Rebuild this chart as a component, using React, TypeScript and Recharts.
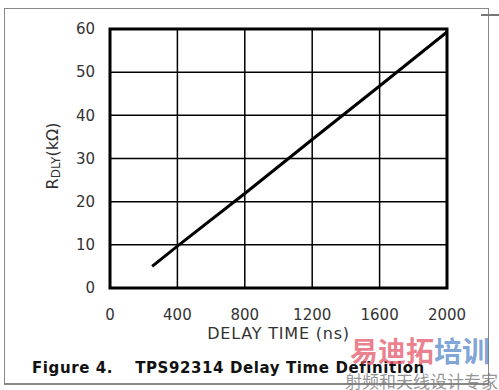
import React from 'react';
import { LineChart, Line, XAxis, YAxis, CartesianGrid, ReferenceArea, Label } from 'recharts';

const delayNs = [250, 400, 800, 1200, 1600, 2000];
const rdlyKohm = [5, 9.7, 21.9, 34.4, 46.8, 59.3];
const xTicks = [0, 400, 800, 1200, 1600, 2000];
const yTicks = [0, 10, 20, 30, 40, 50, 60];

const data = delayNs.map((d, i) => ({ delay: d, rdly: rdlyKohm[i] }));

const font = '"DejaVu Sans", "Liberation Sans", Arial, sans-serif';

const YAxisTitle = () => (
  <text transform="translate(58,156) rotate(-90)" textAnchor="middle" fontSize={16} fill="#333" fontFamily={font}>
    R<tspan fontSize={12} dy={2}>DLY</tspan><tspan dy={-2}>(kΩ)</tspan>
  </text>
);

const App: React.FC = () => {
  return (
    <div style={{ position: 'absolute', left: 0, top: 0, width: 499, height: 390, background: '#fff', fontFamily: font, overflow: 'hidden' }}>
      {/* page frame */}
      <div style={{ position: 'absolute', left: 4, top: 8, width: 485, height: 377, border: '1px solid #888', borderBottomWidth: 2, boxSizing: 'border-box' }} />
      <div style={{ position: 'absolute', left: 481, top: 14, width: 18, height: 2, background: '#777' }} />

      <div style={{ position: 'absolute', left: 0, top: 0 }}>
        <LineChart width={499} height={390} data={data} margin={{ top: 29, right: 52, bottom: 72, left: 60 }}>
          <CartesianGrid stroke="#000" strokeWidth={1.5} />
          <XAxis
            type="number"
            dataKey="delay"
            domain={[0, 2000]}
            ticks={xTicks}
            tickLine={false}
            axisLine={false}
            tickMargin={15}
            height={30}
            tick={{ fontSize: 15, fill: '#333', fontFamily: font }}
          >
            <Label value="DELAY TIME (ns)" position="insideBottom" offset={-21} fontSize={16} letterSpacing={0.8} fill="#333" fontFamily={font} />
          </XAxis>
          <YAxis
            type="number"
            domain={[0, 60]}
            ticks={yTicks}
            tickLine={false}
            axisLine={false}
            tickMargin={9}
            width={50}
            tick={{ fontSize: 15, fill: '#333', fontFamily: font }}
          >
            <Label content={<YAxisTitle />} />
          </YAxis>
          <ReferenceArea x1={0} x2={2000} y1={0} y2={60} fill="none" stroke="#000" strokeWidth={3} fillOpacity={0} />
          <Line type="linear" dataKey="rdly" stroke="#000" strokeWidth={3} dot={false} isAnimationActive={false} />
        </LineChart>
      </div>

      <div style={{ position: 'absolute', left: 32, top: 359, fontSize: 15, fontWeight: 'bold', color: '#111', whiteSpace: 'pre', lineHeight: '18px', letterSpacing: 0.6 }}>
        <span>Figure 4.</span>
        <span style={{ marginLeft: 22 }}>TPS92314 Delay Time Definition</span>
      </div>

      {/* watermark */}
      <div style={{ position: 'absolute', left: 350, top: 333, fontSize: 28, fontWeight: 'bold', fontFamily: '"Noto Sans CJK SC"', whiteSpace: 'nowrap', lineHeight: '34px' }}>
        <span style={{ color: 'rgba(228,80,100,0.72)' }}>易迪拓</span>
        <span style={{ color: 'rgba(80,130,200,0.72)' }}>培训</span>
      </div>
      <div style={{ position: 'absolute', left: 345, top: 371, fontSize: 17, fontFamily: '"Noto Sans CJK SC"', color: 'rgba(120,120,120,0.8)', whiteSpace: 'nowrap', lineHeight: '20px' }}>
        射频和天线设计专家
      </div>
    </div>
  );
};

export default App;
